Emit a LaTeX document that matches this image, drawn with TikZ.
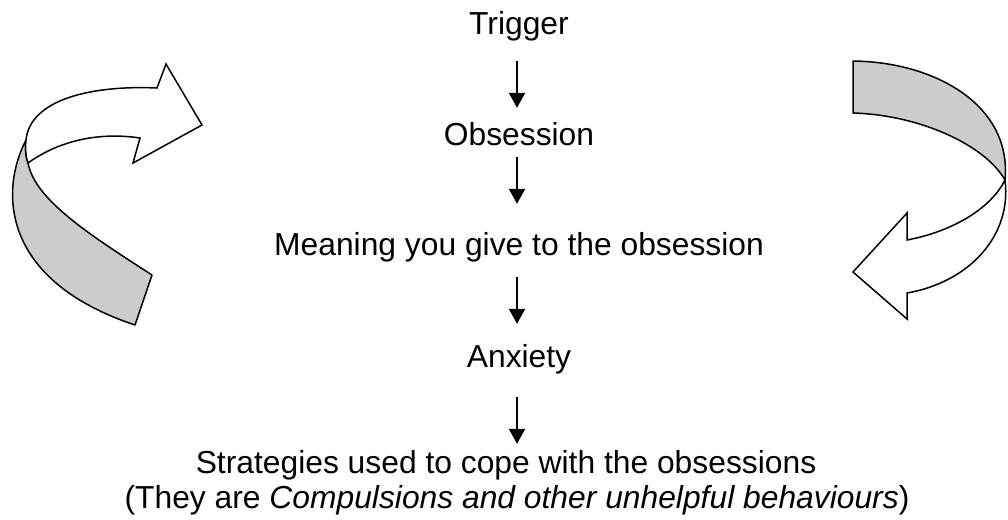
\documentclass[tikz,border=0pt]{standalone}
\usepackage{fontspec}
\setmainfont{Liberation Sans}
\usepackage{tikz}
\usetikzlibrary{arrows.meta}
\definecolor{bandColor}{gray}{0.8}

\begin{document}
\begin{tikzpicture}[x=1pt,y=-1pt]

          \tikzstyle{normalNode} = [anchor=base, inner sep=0pt, text height=23pt, text depth=6pt, font=\fontsize{31.8}{38}\selectfont];
          \tikzstyle{normalEdge} = [line width=2pt, -{Triangle[width=16pt,length=15pt]}];
          \tikzstyle{backBand} = [line width=1.5pt, fill=bandColor, line join=round];
          \tikzstyle{frontBand} = [line width=1.5pt, fill=white, line join=miter];

          \useasboundingbox (0,0) rectangle (1008,519);

          \node[normalNode] (trig) at (519,35) {Trigger};
          \node[normalNode] (obs) at (519,145) {Obsession};
          \node[normalNode] (mean) at (519,255) {Meaning you give to the obsession};
          \node[normalNode] (anx) at (519,367) {Anxiety};
          \node[normalNode] (strat) at (506,473) {Strategies used to cope with the obsessions};
          \node[normalNode] (compul) at (517,508) {(They are \textit{Compulsions and other unhelpful behaviours})};

          \draw[normalEdge, shorten <=20pt, shorten >=14pt] ([xshift=-2pt]trig.south) -- ([xshift=-2pt]obs.north);
          \draw[normalEdge, shorten <=6pt, shorten >=28pt] ([xshift=-2pt]obs.south) -- ([xshift=-2pt]mean.north);
          \draw[normalEdge, shorten <=16pt, shorten >=20pt] ([xshift=-2pt]mean.south) -- ([xshift=-2pt]anx.north);
          \draw[normalEdge, shorten <=24pt, shorten >=6pt] ([xshift=-2pt]anx.south) -- ([xshift=-2pt]anx.south |- strat.north);

          % left curved arrow
          \draw[backBand] (26,140) .. controls (0,190) and (0,280) .. (135,325)
            -- (152,275) .. controls (90,235) and (35,200) .. (28,163)
            .. controls (26,158) and (25,150) .. (26,140) -- cycle;
          \draw[frontBand] (28,163) .. controls (60,140) and (100,132) .. (140,138)
            -- (133,163) -- (202,125) -- (166,64) -- (157,88)
            .. controls (90,85) and (30,100) .. (26,140)
            .. controls (25,150) and (26,158) .. (28,163) -- cycle;

          % right curved arrow
          \draw[backBand] (853,61) -- (853,113)
            .. controls (920,115) and (985,145) .. (1005,180)
            .. controls (1012,105) and (935,62) .. (853,61) -- cycle;
          \draw[frontBand] (1005,180) .. controls (1012,235) and (970,282) .. (907,293)
            -- (907,319) -- (853,272) -- (907,213) -- (907,240)
            .. controls (950,232) and (990,210) .. (1005,180) -- cycle;
        \end{tikzpicture}
\end{document}
